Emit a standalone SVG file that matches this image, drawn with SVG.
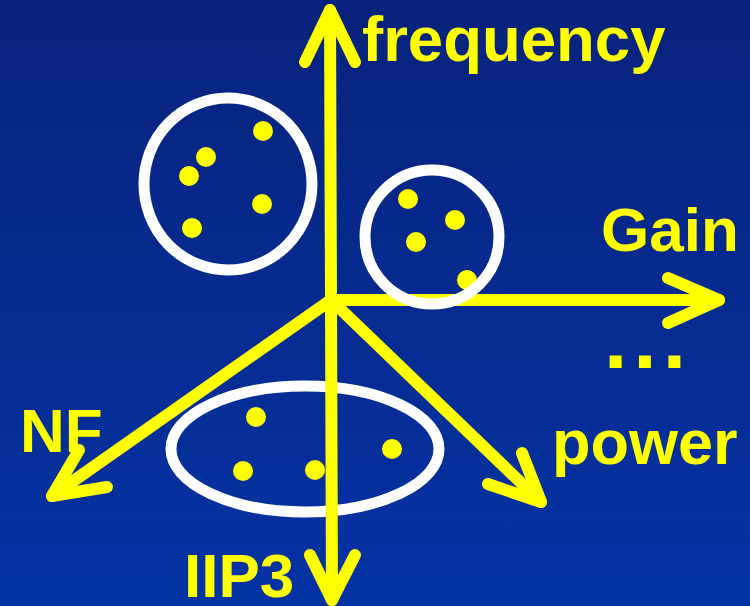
<svg xmlns="http://www.w3.org/2000/svg" width="750" height="606" viewBox="0 0 750 606">
  <defs>
    <linearGradient id="bg" x1="0" y1="0" x2="0" y2="1">
      <stop offset="0" stop-color="#07227c"/>
      <stop offset="1" stop-color="#0533a4"/>
    </linearGradient>
    <style>
      .axis { stroke: #ffff00; stroke-width: 12; fill: none; stroke-linecap: round; stroke-linejoin: round; }
      .ring { stroke: #ffffff; stroke-width: 11; fill: none; }
      .pt { fill: #ffff00; }
      .lbl { fill: #ffff00; font-family: "Liberation Sans", Arial, sans-serif; font-weight: bold; font-size: 62px; }
    </style>
  </defs>

  <rect width="750" height="606" fill="url(#bg)"/>

  <!-- lower cluster (under the axes) -->
  <g id="cluster-bottom">
    <ellipse class="ring" cx="305" cy="449" rx="134" ry="63"/>
    <circle class="pt" cx="256" cy="417" r="10"/>
    <circle class="pt" cx="243" cy="471" r="10"/>
    <circle class="pt" cx="315" cy="470" r="10"/>
    <circle class="pt" cx="392" cy="449" r="10"/>
  </g>

  <!-- axes -->
  <g id="axes">
    <g id="axis-frequency">
      <line class="axis" x1="331" y1="300" x2="330" y2="10"/>
      <polyline class="axis" points="305,62 330,10 355,62"/>
    </g>
    <g id="axis-iip3">
      <line class="axis" x1="331" y1="300" x2="332" y2="600"/>
      <polyline class="axis" points="310,555 332,600 355,555"/>
    </g>
    <g id="axis-gain">
      <line class="axis" x1="331" y1="300" x2="719" y2="300"/>
      <polyline class="axis" points="668,278 719,300 668,323"/>
    </g>
    <g id="axis-nf">
      <line class="axis" x1="331" y1="300" x2="52" y2="496"/>
      <polyline class="axis" points="79,450 52,496 107,487"/>
    </g>
    <g id="axis-power">
      <line class="axis" x1="331" y1="300" x2="541" y2="502"/>
      <polyline class="axis" points="522,453 541,502 488,484"/>
    </g>
  </g>

  <!-- right cluster (ring drawn over the gain axis) -->
  <g id="cluster-right">
    <circle class="pt" cx="408" cy="199" r="10"/>
    <circle class="pt" cx="455" cy="220" r="10"/>
    <circle class="pt" cx="416" cy="242" r="10"/>
    <circle class="pt" cx="467" cy="280" r="10"/>
    <ellipse class="ring" cx="432" cy="237" rx="67" ry="67"/>
  </g>

  <!-- upper-left cluster -->
  <g id="cluster-left">
    <ellipse class="ring" cx="228" cy="184" rx="84" ry="86"/>
    <circle class="pt" cx="263" cy="131" r="10"/>
    <circle class="pt" cx="206" cy="157" r="10"/>
    <circle class="pt" cx="189" cy="176" r="10"/>
    <circle class="pt" cx="262" cy="204" r="10"/>
    <circle class="pt" cx="192" cy="228" r="10"/>
  </g>

  <!-- axis labels -->
  <g id="labels">
    <text class="lbl" x="362" y="61" style="font-size:63.5px">frequency</text>
    <text class="lbl" x="601" y="251">Gain</text>
    <text class="lbl" x="604" y="368" style="font-size:84px; letter-spacing:6px">...</text>
    <text class="lbl" x="20" y="452">NF</text>
    <text class="lbl" x="552" y="464" style="font-size:63px">power</text>
    <text class="lbl" x="184" y="597">IIP3</text>
  </g>
</svg>
